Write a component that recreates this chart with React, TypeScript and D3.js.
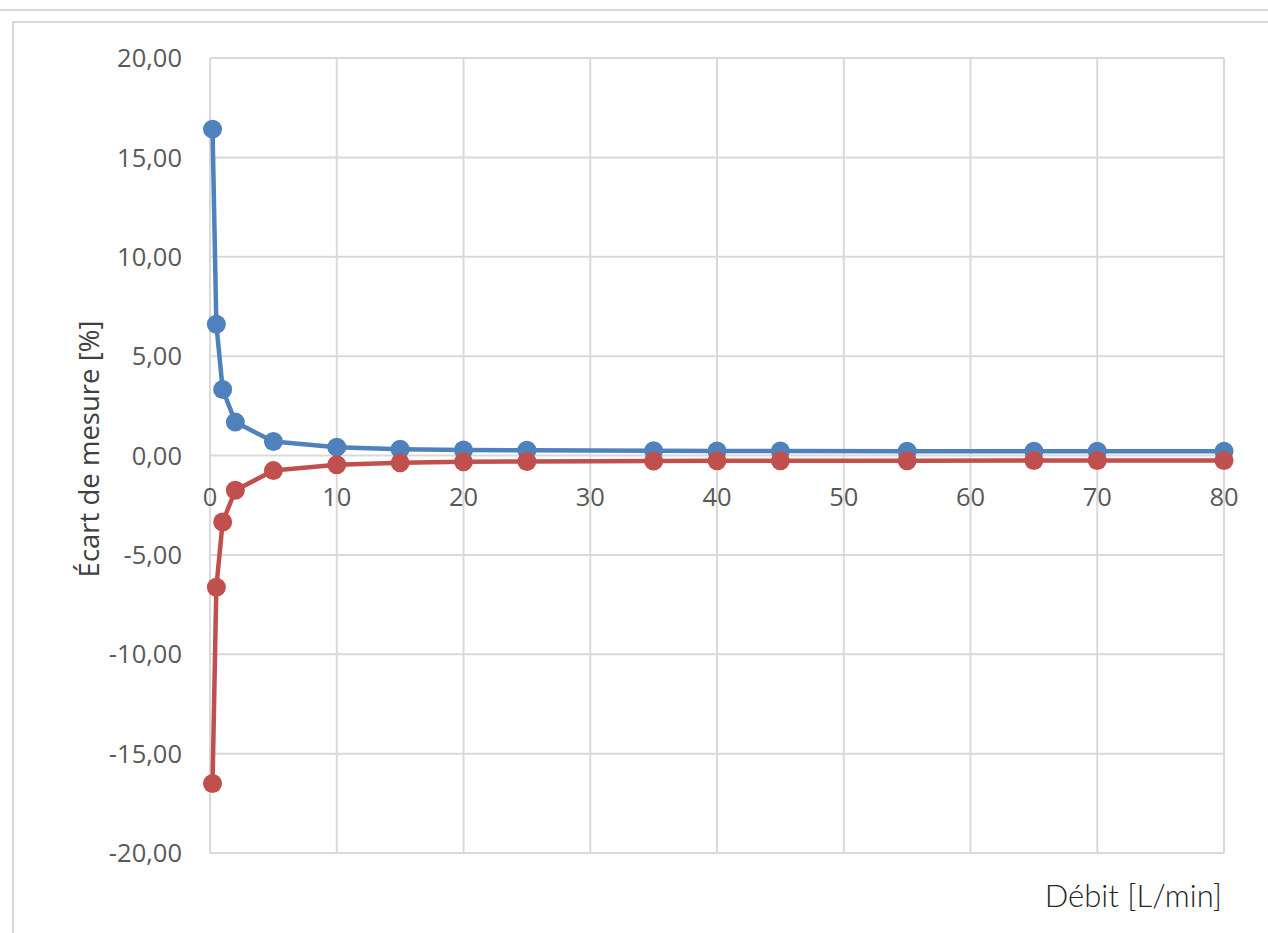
import React from "react";
import * as d3 from "d3";

const flow = [0.2, 0.5, 1, 2, 5, 10, 15, 20, 25, 35, 40, 45, 55, 65, 70, 80];
const upperError = [16.42, 6.6, 3.32, 1.68, 0.7, 0.42, 0.32, 0.28, 0.26, 0.24, 0.23, 0.23, 0.22, 0.21, 0.21, 0.21];
const lowerError = [-16.5, -6.63, -3.35, -1.75, -0.76, -0.47, -0.37, -0.32, -0.3, -0.28, -0.27, -0.27, -0.26, -0.25, -0.25, -0.25];
const xTicks = [0, 10, 20, 30, 40, 50, 60, 70, 80];
const yTicks = [-20, -15, -10, -5, 0, 5, 10, 15, 20];

const W = 1268;
const H = 933;
const left = 210;
const right = 1224;
const top = 58;
const bottom = 853;

export default function App() {
  const x = d3.scaleLinear().domain([0, 80]).range([left, right]);
  const y = d3.scaleLinear().domain([-20, 20]).range([bottom, top]);
  const fmt = (v: number) => v.toFixed(2).replace(".", ",");
  const line = d3
    .line<[number, number]>()
    .x((d) => x(d[0]))
    .y((d) => y(d[1]));
  const upper: [number, number][] = flow.map((f, i) => [f, upperError[i]]);
  const lower: [number, number][] = flow.map((f, i) => [f, lowerError[i]]);
  const grid = "#d9d9d9";
  const blue = "#4f81bd";
  const red = "#c0504d";
  return (
    <svg
      width={W}
      height={H}
      style={{ position: "fixed", left: 0, top: 0, background: "#fff" }}
    >
      <line x1={0} x2={W} y1={10} y2={10} stroke="#c8c8c8" strokeWidth={1.5} />
      <rect x={13} y={22} width={W + 20} height={H} fill="none" stroke="#d9d9d9" strokeWidth={2} />
      {yTicks.map((t) => (
        <line key={"hy" + t} x1={left} x2={right} y1={y(t)} y2={y(t)} stroke={grid} strokeWidth={2} />
      ))}
      {xTicks.map((t) => (
        <line key={"vx" + t} x1={x(t)} x2={x(t)} y1={top} y2={bottom} stroke={grid} strokeWidth={2} />
      ))}
      {yTicks.map((t) => (
        <text
          key={"ly" + t}
          x={182}
          y={y(t)}
          dy="0.36em"
          textAnchor="end"
          fontFamily="Open Sans"
          fontSize={25.5}
          fill="#595959"
        >
          {fmt(t)}
        </text>
      ))}
      {xTicks.map((t) => (
        <text
          key={"lx" + t}
          x={x(t)}
          y={y(0) + 50}
          textAnchor="middle"
          fontFamily="Open Sans"
          fontSize={25.5}
          fill="#595959"
        >
          {t}
        </text>
      ))}
      <path d={line(upper) || ""} fill="none" stroke={blue} strokeWidth={4.5} strokeLinejoin="round" />
      <path d={line(lower) || ""} fill="none" stroke={red} strokeWidth={4.5} strokeLinejoin="round" />
      {upper.map((d, i) => (
        <circle key={"bu" + i} cx={x(d[0])} cy={y(d[1])} r={9.5} fill={blue} />
      ))}
      {lower.map((d, i) => (
        <circle key={"rd" + i} cx={x(d[0])} cy={y(d[1])} r={9.5} fill={red} />
      ))}
      <text
        transform={`translate(99,449) rotate(-90)`}
        textAnchor="middle"
        fontFamily="Open Sans"
        fontSize={27.5}
        fill="#404040"
      >
        Écart de mesure [%]
      </text>
      <text x={1222} y={907} textAnchor="end" fontFamily="Lato" fontWeight={300} fontSize={31} fill="#262626">
        Débit [L/min]
      </text>
    </svg>
  );
}
